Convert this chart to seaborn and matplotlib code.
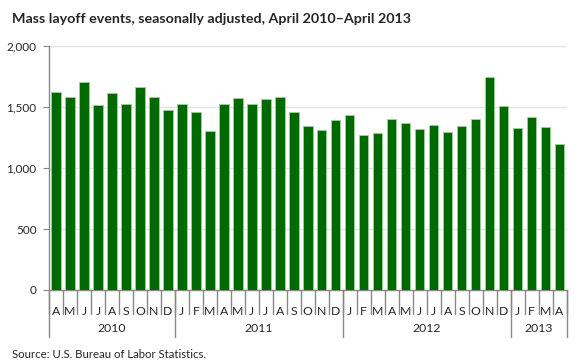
import matplotlib
matplotlib.use("Agg")
import matplotlib.pyplot as plt
import matplotlib.transforms as mtransforms
import pandas as pd
import seaborn as sns

# Monthly mass layoff events, April 2010 - April 2013
months = ['A', 'M', 'J', 'J', 'A', 'S', 'O', 'N', 'D',
          'J', 'F', 'M', 'A', 'M', 'J', 'J', 'A', 'S', 'O', 'N', 'D',
          'J', 'F', 'M', 'A', 'M', 'J', 'J', 'A', 'S', 'O', 'N', 'D',
          'J', 'F', 'M', 'A']
events = [1625, 1582, 1702, 1516, 1617, 1527, 1664, 1582, 1478,
          1527, 1459, 1303, 1527, 1576, 1527, 1568, 1582, 1460, 1344, 1314, 1396,
          1434, 1270, 1287, 1404, 1369, 1322, 1355, 1297, 1344, 1404, 1748, 1508,
          1328, 1418, 1336, 1196]
years = ['2010', '2011', '2012', '2013']
year_lengths = [9, 12, 12, 4]

sns.set_style("white")
plt.rcParams["font.family"] = ["Lato", "DejaVu Sans"]

df = pd.DataFrame({"pos": range(len(events)), "events": events})

fig = plt.figure(figsize=(5.82, 3.63), dpi=100)
ax = fig.add_axes([49 / 582, 1 - 290 / 363, (566.5 - 49) / 582, 244 / 363])

sns.barplot(data=df, x="pos", y="events", color="#006a00", saturation=1,
            width=0.68, edgecolor="#9fcf9f", linewidth=0.6, ax=ax, zorder=3)

ax.set_ylim(0, 2000)
ax.set_xlim(-0.5, len(events) - 0.5)
ax.set_yticks([0, 500, 1000, 1500, 2000])
ax.set_yticklabels(['0', '500', '1,000', '1,500', '2,000'], fontsize=8.5)
ax.yaxis.grid(True, color="#e3e3e3", linewidth=1, zorder=0)
ax.tick_params(axis='y', left=True, length=4, color="#888888", pad=5)

ax.set_xticks(range(len(months)))
ax.set_xticklabels(months, fontsize=8.8)
ax.tick_params(axis='x', bottom=False, pad=8)
ax.set_xlabel("")
ax.set_ylabel("")

for side in ["top", "right"]:
    ax.spines[side].set_visible(False)
for side in ["left", "bottom"]:
    ax.spines[side].set_color("#888888")
    ax.spines[side].set_linewidth(1)

# month and year separators below the axis
trans = mtransforms.blended_transform_factory(ax.transData, ax.transAxes)
for i in range(len(months) + 1):
    ax.plot([i - 0.5, i - 0.5], [0, -24 / 244], transform=trans,
            color="#888888", linewidth=1, clip_on=False)
start = 0
for yr, n in zip(years, year_lengths):
    ax.plot([start - 0.5, start - 0.5], [0, -47 / 244], transform=trans,
            color="#888888", linewidth=1, clip_on=False)
    ax.text(start + n / 2 - 0.5, -39 / 244, yr, transform=trans,
            ha="center", va="center", fontsize=8.8)
    start += n
ax.plot([start - 0.5, start - 0.5], [0, -47 / 244], transform=trans,
        color="#888888", linewidth=1, clip_on=False)

fig.text(12 / 582, 1 - 19 / 363, "Mass layoff events, seasonally adjusted, April 2010\u2013April 2013",
         fontsize=10.3, fontweight="bold", va="center", ha="left")
fig.text(12 / 582, 1 - 355 / 363, "Source: U.S. Bureau of Labor Statistics.",
         fontsize=8.2, va="center", ha="left")

fig.savefig("out.png", dpi=100)
